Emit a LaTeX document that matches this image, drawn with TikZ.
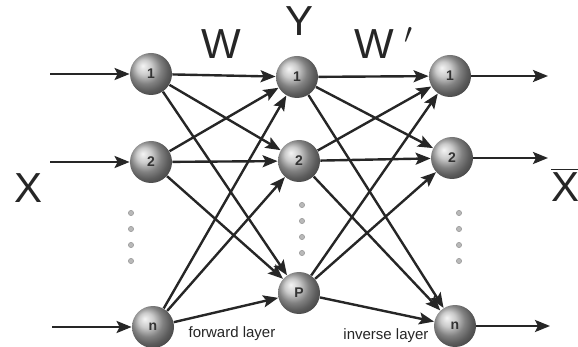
\documentclass[tikz,border=0pt]{standalone}
\usepackage{fontspec}
\setmainfont{Liberation Sans}
\usetikzlibrary{arrows.meta}

\begin{document}
\begin{tikzpicture}[x=0.5pt, y=-0.5pt,
  neuron/.style={circle, shading=ball, ball color=gray!55, minimum size=21pt, inner sep=0pt,
    font=\fontsize{7}{7}\selectfont\bfseries, text=black!80},
  link/.style={-{Stealth[length=7.5pt,width=6pt,inset=1.5pt]}, line width=1.2pt, black!85},
  dotnode/.style={circle, fill=gray!55, draw=gray!80, line width=0.3pt, inner sep=0pt, minimum size=2.6pt},
  biglabel/.style={font=\fontsize{21}{21}\selectfont, text=black!85},
  layerlabel/.style={font=\fontsize{7.5}{8}\selectfont, text=black!85}]
\useasboundingbox (0,0) rectangle (578,347);

% input layer
\node[neuron] (x1) at (151,74) {1};
\node[neuron] (x2) at (151,162) {2};
\node[neuron] (xn) at (153,327) {n};
% middle layer
\node[neuron] (y1) at (297,77) {1};
\node[neuron] (y2) at (299,161) {2};
\node[neuron] (yp) at (299,293) {P};
% output layer
\node[neuron] (z1) at (450,76) {1};
\node[neuron] (z2) at (452,158) {2};
\node[neuron] (zn) at (455,326) {n};

% ends of the in and out arrows
\coordinate (i1) at (50,74);
\coordinate (i2) at (50,162);
\coordinate (in) at (52,327);
\coordinate (o1) at (548,76);
\coordinate (o2) at (548,158);
\coordinate (on) at (550,326);

\draw[link] (i1) -- (x1);
\draw[link] (i2) -- (x2);
\draw[link] (in) -- (xn);
\draw[link] (z1) -- (o1);
\draw[link] (z2) -- (o2);
\draw[link] (zn) -- (on);

\foreach \a in {x1,x2,xn}
  \foreach \b in {y1,y2,yp}
    \draw[link] (\a) -- (\b);
\foreach \a in {y1,y2,yp}
  \foreach \b in {z1,z2,zn}
    \draw[link] (\a) -- (\b);

% dots between the units
\foreach \y in {213,229,245,261} \node[dotnode] (dl\y) at (131,\y) {};
\foreach \y in {205,221,237,253} \node[dotnode] (dm\y) at (302,\y) {};
\foreach \y in {213,229,245,261} \node[dotnode] (dr\y) at (459,\y) {};

% labels
\node[biglabel] (lx) at (29,188) {X};
\node[biglabel] (lxbar) at (565,185) {$\overline{\mbox{X}}$};
\node[biglabel] (lw) at (221,44) {W};
\node[biglabel] (ly) at (300,21) {Y};
\node[biglabel] (lwp) at (384,43) {W\kern5pt$'$};
\node[layerlabel] (lfwd) at (232,334) {forward layer};
\node[layerlabel] (linv) at (386,336) {inverse layer};
\end{tikzpicture}
\end{document}
